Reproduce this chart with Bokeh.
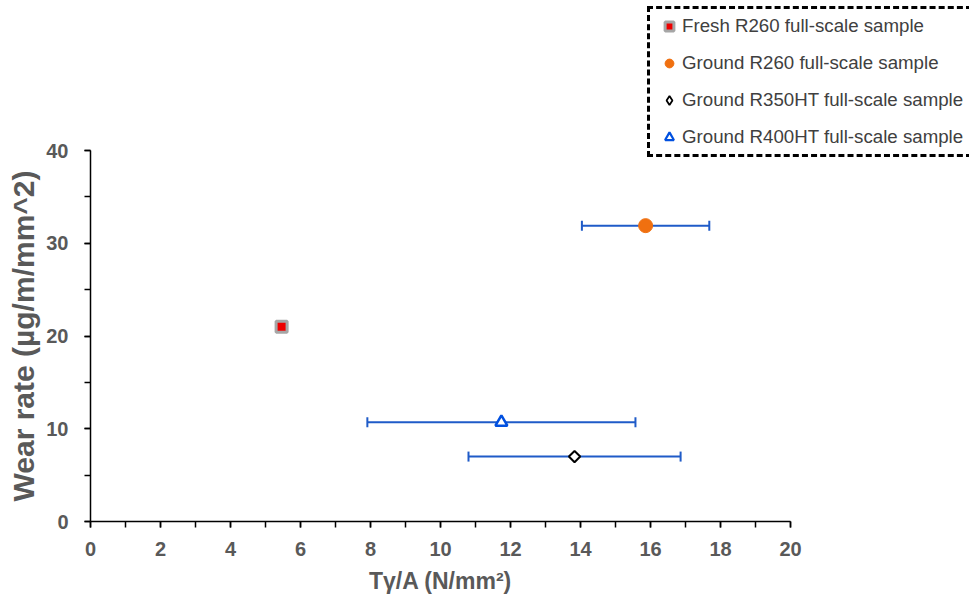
import math
from bokeh.plotting import figure
from bokeh.layouts import column, row
from bokeh.models import (Range1d, SingleIntervalTicker, Whisker, TeeHead,
                          ColumnDataSource, Legend, LegendItem, Spacer)
from bokeh.embed import file_html
from bokeh.resources import INLINE

# ---- data ----
series_names = ["Fresh R260 full-scale sample",
                "Ground R260 full-scale sample",
                "Ground R350HT full-scale sample",
                "Ground R400HT full-scale sample"]
x_vals = [5.46, 15.86, 13.83, 11.74]        # Tγ/A (N/mm²)
y_vals = [21.0, 31.9, 7.0, 10.7]            # wear rate
x_err = [0.0, 1.82, 3.03, 3.83]             # horizontal error (±)
has_err = [False, True, True, True]

x_ticks_interval = 2
y_ticks_interval = 10

FONT = "Liberation Sans"
GRAY = "#595959"
BLUE = "#1f5bc8"
TOTAL_W = 960

# ---------------- legend strip (top right) ----------------
leg_fig = figure(width=323, height=158, min_border=0,
                 x_range=Range1d(0, 1), y_range=Range1d(0, 1),
                 output_backend="svg", toolbar_location=None)
leg_fig.axis.visible = False
leg_fig.grid.visible = False
leg_fig.outline_line_color = None

# ---------------- main plot ----------------
p = figure(frame_width=700, frame_height=371,
           min_border_left=90, min_border_right=TOTAL_W - 790,
           min_border_top=14, min_border_bottom=74,
           x_range=Range1d(0, 20), y_range=Range1d(0, 40),
           output_backend="svg", toolbar_location=None)
p.margin = (-22, 0, 0, 0)
p.outline_line_color = None
p.border_fill_alpha = 0
p.background_fill_alpha = 0
p.xgrid.visible = False
p.ygrid.visible = False

# error bars
eb_y, eb_lo, eb_hi = [], [], []
for xv, yv, e, h in zip(x_vals, y_vals, x_err, has_err):
    if h:
        eb_y.append(yv); eb_lo.append(xv - e); eb_hi.append(xv + e)
err_src = ColumnDataSource(dict(y=eb_y, lower=eb_lo, upper=eb_hi))
w = Whisker(base="y", lower="lower", upper="upper", dimension="width", source=err_src,
            line_color=BLUE, line_width=2,
            lower_head=TeeHead(size=10, line_color=BLUE, line_width=2),
            upper_head=TeeHead(size=10, line_color=BLUE, line_width=2))
p.add_layout(w)

# points
styles = [
    dict(marker="square", size=11, fill_color="#ee0000", line_color="#a6a6a6", line_width=3, angle=0),
    dict(marker="circle", size=14, fill_color="#f07010", line_color="#f07010", line_width=1, angle=0),
    dict(marker="square", size=8, fill_color="white", line_color="black", line_width=2, angle=math.pi / 4),
    dict(marker="triangle", size=12, fill_color="white", line_color="#0050e0", line_width=2.5, angle=0),
]
legend_styles = [
    dict(marker="square", size=8, fill_color="#ee0000", line_color="#a6a6a6", line_width=3),
    dict(marker="circle", size=11, fill_color="#f07010", line_color="#f07010", line_width=1),
    dict(marker="diamond", size=12, fill_color="white", line_color="black", line_width=1.8),
    dict(marker="triangle", size=10, fill_color="white", line_color="#0050e0", line_width=2.2),
]
items = []
for i, name in enumerate(series_names):
    st = styles[i]
    p.scatter([x_vals[i]], [y_vals[i]], marker=st["marker"], size=st["size"],
              fill_color=st["fill_color"], line_color=st["line_color"],
              line_width=st["line_width"], angle=st["angle"])
    ls = legend_styles[i]
    r = leg_fig.scatter([float("nan")], [float("nan")], marker=ls["marker"], size=ls["size"],
                        fill_color=ls["fill_color"], line_color=ls["line_color"],
                        line_width=ls["line_width"])
    items.append(LegendItem(label=name, renderers=[r]))

legend = Legend(items=items, location=(1, 1),
                label_text_font=FONT, label_text_font_size="18.7px", label_text_color="#404040",
                glyph_width=26, glyph_height=22, label_standoff=0,
                label_height=22, spacing=15, padding=6, margin=0,
                border_line_color="black", border_line_alpha=1.0,
                border_line_width=3, border_line_dash="13 8",
                background_fill_color="white", background_fill_alpha=1)
leg_fig.add_layout(legend)

# axes
for ax in (p.xaxis[0], p.yaxis[0]):
    ax.axis_line_color = "black"
    ax.axis_line_width = 1.5
    ax.major_tick_line_color = "black"
    ax.minor_tick_line_color = "black"
    ax.major_tick_line_width = 1.5
    ax.minor_tick_line_width = 1.5
    ax.major_tick_in = 0
    ax.minor_tick_in = 0
    ax.major_tick_out = 6
    ax.minor_tick_out = 6
    ax.major_label_text_font = FONT
    ax.major_label_text_font_style = "bold"
    ax.major_label_text_font_size = "20px"
    ax.major_label_text_color = GRAY
    ax.axis_label_text_font = FONT
    ax.axis_label_text_font_style = "bold"
    ax.axis_label_text_color = GRAY

p.xaxis[0].ticker = SingleIntervalTicker(interval=x_ticks_interval, num_minor_ticks=2)
p.yaxis[0].ticker = SingleIntervalTicker(interval=y_ticks_interval, num_minor_ticks=2)
p.xaxis[0].axis_label = "Tγ/A (N/mm²)"
p.yaxis[0].axis_label = "Wear rate (µg/m/mm^2)"
p.xaxis[0].axis_label_text_font_size = "23px"
p.yaxis[0].axis_label_text_font_size = "30px"
p.xaxis[0].major_label_standoff = 14
p.yaxis[0].major_label_standoff = 16
p.xaxis[0].axis_label_standoff = 9
p.yaxis[0].axis_label_standoff = 3

top = row(Spacer(width=646, height=158), leg_fig, spacing=0)
layout = column(top, p, spacing=0)
open("out.html", "w").write(file_html(layout, INLINE))
